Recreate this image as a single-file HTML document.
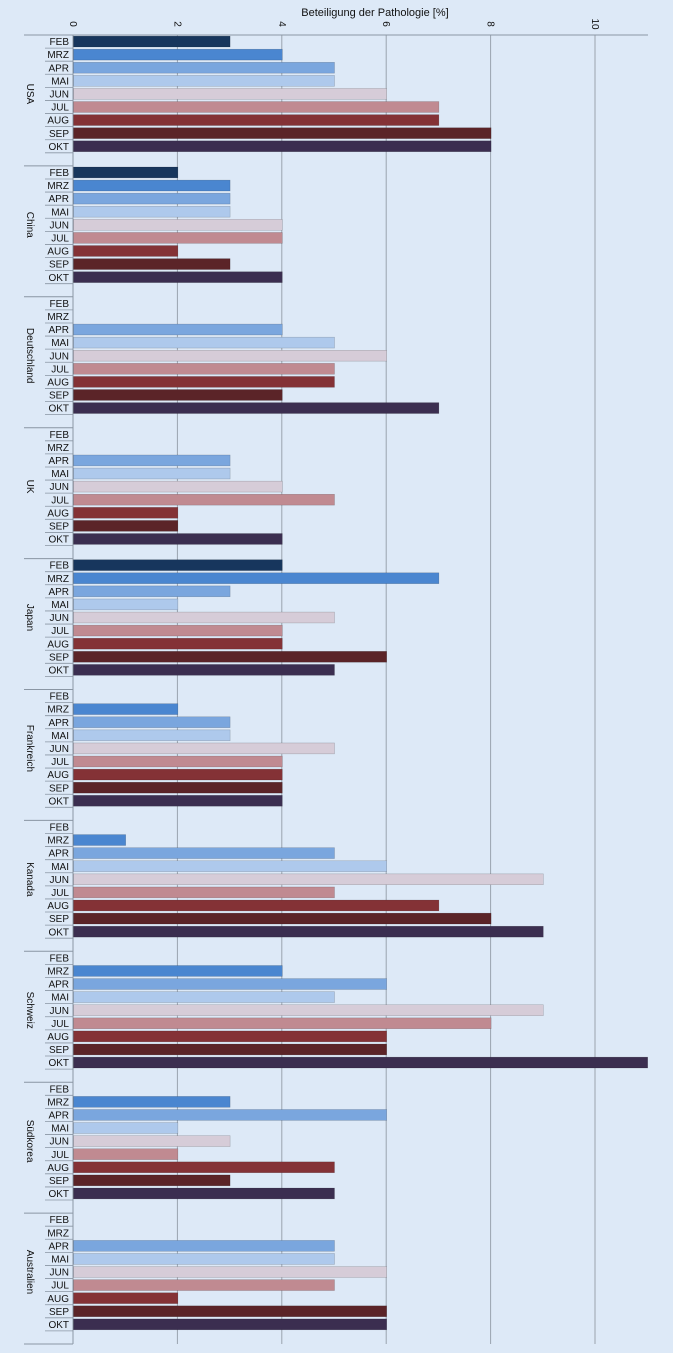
<!DOCTYPE html>
<html><head><meta charset="utf-8"><style>
html,body{margin:0;padding:0;background:#dde9f7;}
svg{display:block;font-family:"Liberation Sans",sans-serif;}
</style></head><body>
<svg id="chart" width="673" height="1353" xmlns="http://www.w3.org/2000/svg">
<rect width="673" height="1353" fill="#dde9f7"/>
<text x="375" y="16" font-size="11" text-anchor="middle" fill="#111">Beteiligung der Pathologie  [%]</text>
</svg>
<script>
const countries=["USA","China","Deutschland","UK","Japan","Frankreich","Kanada","Schweiz","Südkorea","Australien"];
const months=["FEB","MRZ","APR","MAI","JUN","JUL","AUG","SEP","OKT"];
const ticks=[0,2,4,6,8,10];
const vUSA=[3,4,5,5,6,7,7,8,8];
const vChina=[2,3,3,3,4,4,2,3,4];
const vDeutschland=[0,0,4,5,6,5,5,4,7];
const vUK=[0,0,3,3,4,5,2,2,4];
const vJapan=[4,7,3,2,5,4,4,6,5];
const vFrankreich=[0,2,3,3,5,4,4,4,4];
const vKanada=[0,1,5,6,9,5,7,8,9];
const vSchweiz=[0,4,6,5,9,8,6,6,11];
const vSuedkorea=[0,3,6,2,3,2,5,3,5];
const vAustralien=[0,0,5,5,6,5,2,6,6];
const values=[vUSA,vChina,vDeutschland,vUK,vJapan,vFrankreich,vKanada,vSchweiz,vSuedkorea,vAustralien];
const colors=["#17365d","#4a86d0","#7aa6de","#aec9ec","#d6ccd8","#c08a91","#843236","#5b2428","#3b2e50"];
const svg=document.getElementById('chart');
const NS="http://www.w3.org/2000/svg";
const x0=73, unit=52.2, topY=35, bottomY=1344;
const groupH=(bottomY-topY)/countries.length, rowH=groupH/10;
const xs=v=>x0+v*unit;
function mk(t,a){const e=document.createElementNS(NS,t);for(const k in a)e.setAttribute(k,a[k]);svg.appendChild(e);return e;}
ticks.forEach(t=>{
  const g=mk('line',{x1:xs(t),x2:xs(t),y1:topY,y2:bottomY,stroke:t===0?'#8a96a4':'#9aa3ae','stroke-width':1});
  
  
  const tx=mk('text',{x:0,y:0,'font-size':10,fill:'#111',transform:`translate(${xs(t)-3},24) rotate(90)`,'text-anchor':'middle'});
  tx.textContent=t;
  
  
});
countries.forEach((c,gi)=>{
  const gy=topY+gi*groupH;
  const sep=mk('line',{x1:24,x2:x0,y1:gy,y2:gy,stroke:'#8a96a4','stroke-width':1});
  
  
  const lb=mk('text',{x:0,y:0,'font-size':10,fill:'#111','text-anchor':'middle',transform:`translate(27,${gy+4.5*rowH}) rotate(90)`});
  lb.textContent=c;
  
  
  months.forEach((m,mi)=>{
    const ry=gy+mi*rowH;
    const ml=mk('text',{x:x0-4,y:ry+rowH/2+3.6,'font-size':10,fill:'#111','text-anchor':'end'});
    ml.textContent=m;
    
    
    const rl=mk('line',{x1:45,x2:x0,y1:ry+rowH,y2:ry+rowH,stroke:'#8a96a4','stroke-width':0.8});
    
    
    const v=values[gi][mi];
    if(v>0){
      const b=mk('rect',{x:x0+0.5,y:ry+1.1,width:xs(v)-x0,height:rowH-2.2,fill:colors[mi],stroke:'rgba(0,0,0,0.25)','stroke-width':0.5});
      
      
    }
  });
});
const bl=mk('line',{x1:24,x2:x0,y1:bottomY,y2:bottomY,stroke:'#8a96a4','stroke-width':1});


const tl=mk('line',{x1:x0,x2:648,y1:topY,y2:topY,stroke:'#8a96a4','stroke-width':1});


</script>
</body></html>
